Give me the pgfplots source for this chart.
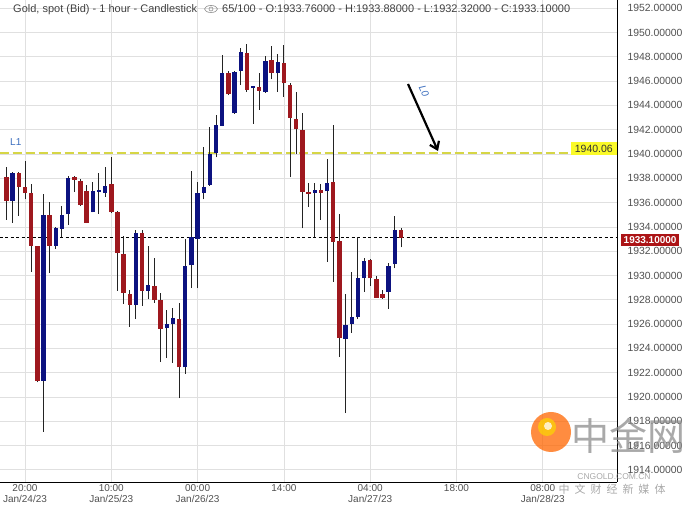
\documentclass[border=0pt]{standalone}
\usepackage{fontspec}
\setmainfont{Liberation Sans}
\newfontfamily\cjk{Noto Sans CJK SC}
\usepackage{pgfplots}
\pgfplotsset{compat=1.18}
\usepackage{pgfplotstable}
\usetikzlibrary{arrows.meta}

\definecolor{bull}{RGB}{12,18,128}
\definecolor{bear}{RGB}{158,24,30}
\definecolor{wick}{RGB}{35,35,35}
\definecolor{gridc}{RGB}{224,224,224}
\definecolor{labelc}{RGB}{80,80,80}
\definecolor{levelc}{RGB}{214,214,70}
\definecolor{levelbox}{RGB}{250,250,40}
\definecolor{lastbox}{RGB}{172,20,22}
\definecolor{tagblue}{RGB}{60,110,190}

% hourly candles, t = hours after 20:00 Jan/24/23
\pgfplotstableread{
t  O       H       L       C
-3 1938.08 1938.90 1934.57 1936.16
-1 1938.46 1938.55 1934.90 1937.31
0  1937.26 1939.42 1936.27 1936.77
1  1936.82 1937.53 1930.31 1932.45
2  1932.40 1932.45 1921.20 1921.34
4  1934.95 1936.02 1930.23 1932.45
8  1938.08 1938.20 1936.87 1937.86
9  1937.78 1937.90 1935.70 1935.78
10 1936.93 1937.45 1934.30 1934.35
14 1937.53 1939.73 1935.12 1935.25
15 1935.23 1935.30 1928.75 1931.83
16 1931.77 1933.25 1927.65 1928.58
17 1928.48 1928.81 1925.79 1927.60
19 1933.52 1933.74 1927.49 1928.75
21 1929.14 1931.47 1927.76 1927.98
22 1927.98 1928.53 1922.86 1925.60
25 1926.40 1927.71 1919.89 1922.44
33 1946.69 1946.85 1944.85 1944.91
36 1948.34 1949.05 1945.13 1945.27
38 1945.54 1946.69 1943.62 1945.19
40 1947.74 1948.89 1946.15 1946.69
42 1947.51 1948.97 1944.72 1945.82
43 1945.68 1945.82 1938.08 1942.99
44 1942.86 1945.08 1940.00 1942.03
45 1941.98 1943.35 1933.88 1936.90
46 1936.85 1937.59 1935.66 1936.73
48 1937.04 1937.53 1934.60 1936.82
50 1937.72 1942.39 1929.49 1932.78
51 1932.84 1935.04 1923.27 1924.88
56 1931.28 1931.36 1929.16 1929.77
57 1929.69 1929.96 1928.17 1928.17
58 1928.48 1928.81 1928.10 1928.17
61 1933.76 1933.88 1932.32 1933.10
}\bears

\pgfplotstableread{
t  O       H       L       C
-2 1936.16 1938.55 1934.35 1938.46
3  1921.34 1936.71 1917.14 1934.95
5  1932.45 1934.00 1932.16 1933.88
6  1933.85 1935.72 1933.14 1934.95
7  1935.04 1938.19 1934.18 1938.02
11 1935.20 1937.67 1935.20 1936.93
12 1936.90 1938.41 1935.06 1937.02
13 1936.82 1938.96 1936.49 1937.37
18 1927.60 1933.74 1926.40 1933.52
20 1928.75 1932.43 1928.04 1929.22
23 1925.65 1927.16 1923.20 1926.00
24 1925.98 1927.30 1922.82 1926.48
26 1922.44 1932.98 1921.89 1930.78
27 1930.84 1938.63 1928.95 1933.15
28 1933.03 1937.72 1928.95 1936.77
29 1936.82 1940.55 1936.27 1937.26
30 1937.45 1942.25 1937.40 1940.00
31 1940.10 1943.21 1939.73 1942.39
32 1942.33 1948.15 1942.30 1946.69
34 1943.35 1946.85 1943.30 1946.77
35 1946.85 1948.70 1945.68 1948.42
37 1945.40 1945.60 1942.47 1945.60
39 1945.13 1948.07 1945.05 1947.68
41 1946.64 1948.21 1945.13 1947.55
47 1936.77 1937.59 1933.14 1937.04
49 1936.95 1939.56 1931.14 1937.59
52 1924.80 1928.48 1918.66 1925.93
53 1926.00 1930.31 1925.29 1926.56
54 1926.56 1933.14 1926.40 1929.77
55 1929.77 1931.42 1928.67 1931.19
59 1928.67 1931.06 1927.24 1930.78
60 1930.92 1934.90 1930.59 1933.76
}\bulls

\pgfplotsset{
  wickstyle/.style={draw=none, mark=none, forget plot,
    error bars/.cd, y dir=plus, y explicit, error mark=none,
    error bar style={line width=1pt, draw=wick}},
  bodystyle/.style={draw=none, mark=none, forget plot,
    error bars/.cd, y dir=plus, y explicit, error mark=none,
    error bar style={line width=4.4pt, draw=#1}},
}

\begin{document}
\begin{tikzpicture}
\path[use as bounding box] (0pt,-23pt) rectangle (688pt,482pt);
\begin{axis}[
  at={(0pt,0pt)}, anchor=south west,
  scale only axis, width=617pt, height=482pt,
  xmin=-4.056, xmax=96.04, ymin=1913.0, ymax=1952.675,
  axis x line*=bottom, axis y line*=right,
  axis line style={black, line width=0.9pt},
  major tick length=0pt,
  grid=major, major grid style={gridc, line width=0.7pt},
  xtick={0,14,28,42,56,70,84},
  xticklabels={{20:00\\Jan/24/23},{10:00\\Jan/25/23},{00:00\\Jan/26/23},{14:00},{04:00\\Jan/27/23},{18:00},{08:00\\Jan/28/23}},
  xticklabel style={align=center, font=\fontsize{10}{11}\selectfont, text=labelc, inner sep=1pt, yshift=-1pt},
  ytick={1914,1916,1918,1920,1922,1924,1926,1928,1930,1932,1934,1936,1938,1940,1942,1944,1946,1948,1950,1952},
  yticklabels={1914.00000,1916.00000,1918.00000,1920.00000,1922.00000,1924.00000,1926.00000,1928.00000,1930.00000,1932.00000,1934.00000,1936.00000,1938.00000,1940.00000,1942.00000,1944.00000,1946.00000,1948.00000,1950.00000,1952.00000},
  yticklabel style={font=\fontsize{10.4}{12}\selectfont, text=labelc, anchor=west, xshift=7pt},
  clip=true,
]
% price levels
\addplot[levelc, line width=2.4pt, dash pattern=on 9pt off 4pt, forget plot] coordinates {(-4.1,1940.06) (96.1,1940.06)};
\addplot[black, line width=0.9pt, dash pattern=on 3pt off 2.5pt, forget plot] coordinates {(-4.1,1933.10) (96.1,1933.10)};
% wicks
\addplot[wickstyle] table[x=t, y=L, y error plus expr=\thisrow{H}-\thisrow{L}] {\bears};
\addplot[wickstyle] table[x=t, y=L, y error plus expr=\thisrow{H}-\thisrow{L}] {\bulls};
% bodies
\addplot[bodystyle=bear] table[x=t, y=C, y error plus expr=\thisrow{O}-\thisrow{C}] {\bears};
\addplot[bodystyle=bull] table[x=t, y=O, y error plus expr=\thisrow{C}-\thisrow{O}] {\bulls};
\end{axis}

% header
\node[anchor=base west, inner sep=0pt, text=black!75, font=\fontsize{11}{13}\selectfont] at (13pt,469.5pt) {Gold, spot (Bid) - 1 hour - Candlestick};
\draw[black!45, line width=0.6pt] (211pt,473pt) ellipse (6.5pt and 3.5pt);
\draw[black!45, line width=0.6pt] (211pt,473pt) circle (2pt);
\node[anchor=base west, inner sep=0pt, text=black!75, font=\fontsize{11}{13}\selectfont] at (222pt,469.5pt) {65/100 - O:1933.76000 - H:1933.88000 - L:1932.32000 - C:1933.10000};

% level tags
\node[anchor=base west, inner sep=0pt, text=tagblue, font=\fontsize{10}{12}\selectfont] at (10pt,336pt) {L1};
\node[anchor=south east, fill=levelbox, inner xsep=4pt, inner ysep=2.5pt, text=black!80, font=\fontsize{10.5}{12}\selectfont] at (617pt,327pt) {1940.06};
\node[anchor=west, fill=lastbox, inner xsep=2.5pt, inner ysep=2.5pt, text=white, font=\bfseries\fontsize{10}{11}\selectfont] at (621pt,242pt) {1933.10000};

% trend arrow
\draw[black, line width=2.2pt, -{Straight Barb[length=7pt,width=10pt]}] (408pt,398pt) -- (438pt,331pt);
\node[text=tagblue, rotate=-66, font=\fontsize{10}{12}\selectfont\itshape] at (424pt,391pt) {L0};

% watermark
\begin{scope}[opacity=0.75]
\fill[orange!80!red] (551pt,50pt) circle (20pt);
\fill[yellow!70!orange] (547pt,55pt) circle (9pt);
\fill[white] (548pt,56pt) circle (4pt);
\node[text=black!45, font=\cjk\fontsize{38}{40}\selectfont] at (628pt,46pt) {中金网};
\node[text=black!45, font=\fontsize{8.5}{9}\selectfont] at (614pt,5pt) {CNGOLD.COM.CN};
\node[text=black!45, font=\cjk\fontsize{11}{12}\selectfont] at (612pt,-7pt) {中\hspace{5pt}文\hspace{5pt}财\hspace{5pt}经\hspace{5pt}新\hspace{5pt}媒\hspace{5pt}体};
\end{scope}
\end{tikzpicture}
\end{document}
